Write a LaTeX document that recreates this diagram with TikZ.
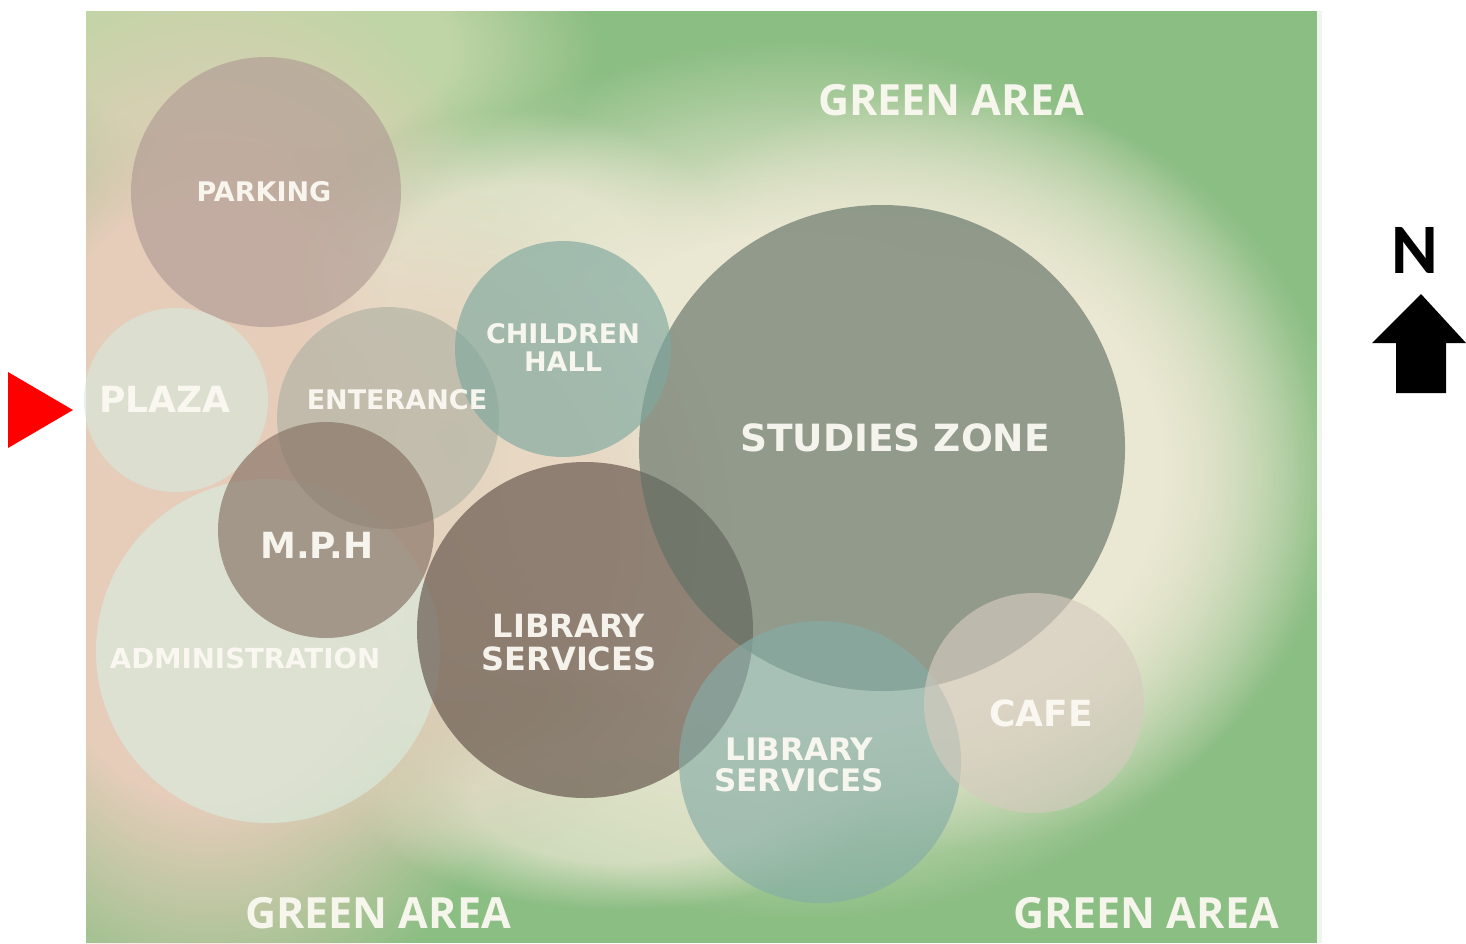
\documentclass[tikz,border=0pt]{standalone}
\usepackage{fontspec}
\usetikzlibrary{fadings}
\newfontfamily\labfont{DejaVu Sans}
\newfontfamily\greenfont{Open Sans}
\newfontfamily\nfont{Carlito}
\newcommand\labsz[2]{\labfont\bfseries\fontsize{#1}{#2}\selectfont}
\newcommand\greensz[2]{\greenfont\bfseries\fontsize{#1}{#2}\selectfont}
\definecolor{gbase}{RGB}{139,190,131}
\definecolor{glight}{RGB}{192,213,166}
\definecolor{beigeP}{RGB}{229,205,186}
\definecolor{creamC}{RGB}{234,231,210}
\definecolor{cPark}{RGB}{176,155,148}
\definecolor{cPlaza}{RGB}{216,234,220}
\definecolor{cEnt}{RGB}{176,178,164}
\definecolor{cChild}{RGB}{126,168,158}
\definecolor{cStud}{RGB}{98,113,102}
\definecolor{cMph}{RGB}{132,112,99}
\definecolor{cAdm}{RGB}{217,236,222}
\definecolor{cBrown}{RGB}{96,80,71}
\definecolor{cTeal}{RGB}{134,173,167}
\definecolor{cCafe}{RGB}{214,203,191}
\definecolor{labw}{RGB}{251,249,242}
\pgfdeclareradialshading{blobsh}{\pgfpointorigin}{color(0bp)=(white); color(14bp)=(white); color(25bp)=(black); color(50bp)=(black)}
\pgfdeclarefading{blob}{\pgfuseshading{blobsh}}
\tikzset{
  zone/.style={circle, inner sep=0pt, draw=none, fill opacity=0.65},
  lbl/.style={text=labw, text opacity=0.95, inner sep=0pt, align=center},
  greenlbl/.style={lbl, font=\greensz{43}{46}}
}
\begin{document}
\begin{tikzpicture}[x=1pt,y=-1pt]
\useasboundingbox (0,0) rectangle (1466,943);
% background panel
\fill[gbase] (86,11) rectangle (1320,943);
\begin{scope}
\clip (86,11) rectangle (1320,943);
\fill[glight, path fading=blob] (260,50) ellipse (340 and 170);
\fill[beigeP, path fading=blob] (210,500) ellipse (360 and 540);
\fill[creamC, path fading=blob] (800,480) ellipse (520 and 440);
\fill[creamC, path fading=blob] (940,470) ellipse (400 and 380);
\fill[creamC, opacity=0.8, path fading=blob] (520,280) ellipse (230 and 170);
\fill[creamC, opacity=0.7, path fading=blob] (620,800) ellipse (260 and 110);
\fill[beigeP, opacity=0.6, path fading=blob] (430,530) ellipse (300 and 340);
\end{scope}
\fill[white!85!gbase] (1317,11) rectangle (1322,943);
% zones
\node[zone, fill=cPark, minimum size=270pt] (park) at (266,192) {};
\node[zone, fill=cPlaza, minimum size=184pt] (plaza) at (176,400) {};
\node[zone, fill=cAdm, minimum size=344pt] (adm) at (268,651) {};
\node[zone, fill=cEnt, minimum size=222pt] (ent) at (388,418) {};
\node[zone, fill=cMph, minimum size=216pt] (mph) at (326,530) {};
\node[zone, fill=cBrown, minimum size=336pt] (lib1) at (585,630) {};
\node[zone, fill=cStud, minimum size=486pt] (stud) at (882,448) {};
\node[zone, fill=cChild, minimum size=216pt] (child) at (563,349) {};
\node[zone, fill=cTeal, minimum size=282pt] (lib2) at (820,762) {};
\node[zone, fill=cCafe, minimum size=220pt] (cafe) at (1034,703) {};
% labels
\node[greenlbl] (gtop) at (951,100) {GREEN AREA};
\node[greenlbl] (gbl) at (378,913) {GREEN AREA};
\node[greenlbl] (gbr) at (1146,913) {GREEN AREA};
\node[lbl, font=\labsz{27}{30}] (tpark) at (264,192) {PARKING};
\node[lbl, font=\labsz{36}{40}] (tplaza) at (165,399) {PLAZA};
\node[lbl, font=\labsz{27}{30}] (tent) at (397,400) {ENTERANCE};
\node[lbl, font=\labsz{27}{28}] (tchild) at (563,347) {CHILDREN\\HALL};
\node[lbl, font=\labsz{37.5}{40}] (tstud) at (895,438) {STUDIES ZONE};
\node[lbl, font=\labsz{36}{40}] (tmph) at (317,545) {M.P.H};
\node[lbl, font=\labsz{27.6}{30}] (tadm) at (245,658) {ADMINISTRATION};
\node[lbl, font=\labsz{32}{33}] (tlib1) at (569,643) {LIBRARY\\SERVICES};
\node[lbl, font=\labsz{31}{31}] (tlib2) at (799,765) {LIBRARY\\SERVICES};
\node[lbl, font=\labsz{36}{40}] (tcafe) at (1041,713) {CAFE};
% entrance marker
\fill[red] (8,372) -- (73,410) -- (8,448) -- cycle;
% north arrow
\node[font=\nfont\bfseries\fontsize{71}{71}\selectfont, inner sep=0pt] (north) at (1415,250) {N};
\fill[black] (1421,294) -- (1466,343) -- (1446,343) -- (1446,393) -- (1396,393) -- (1396,343) -- (1372,343) -- cycle;
\end{tikzpicture}
\end{document}
